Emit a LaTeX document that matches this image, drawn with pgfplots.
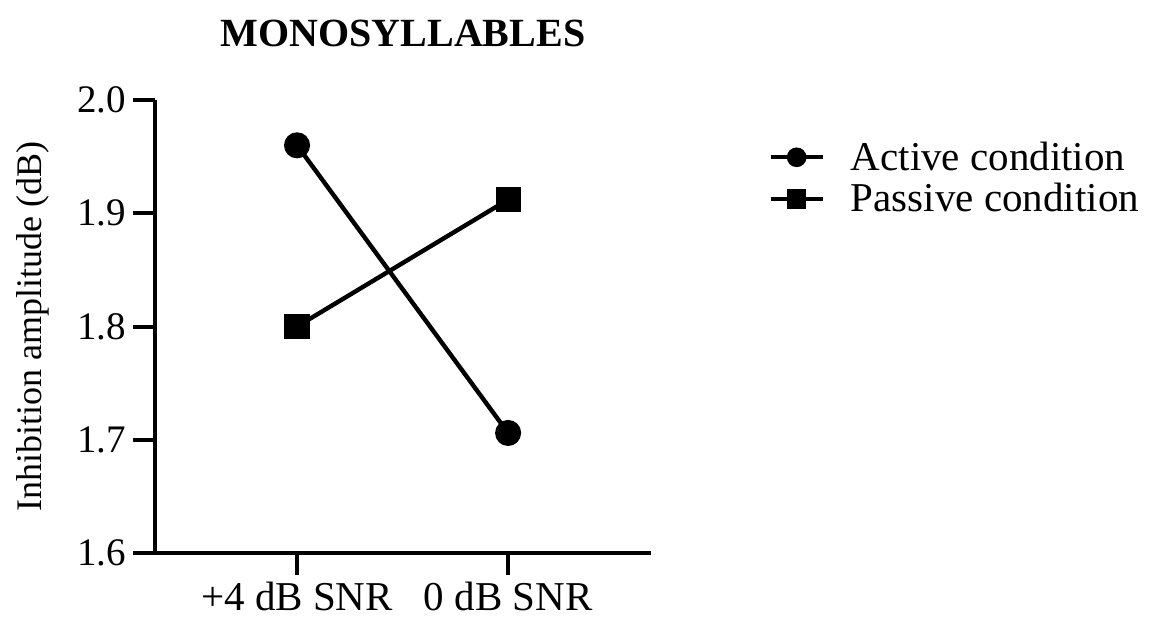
\documentclass[border=0pt]{standalone}
\usepackage{pgfplots}
\pgfplotsset{compat=1.18}
\usepackage{fontspec}
\setmainfont{Liberation Serif}
\begin{document}
\begin{tikzpicture}
\begin{axis}[
  scale only axis=true,
  width=248pt, height=226.5pt,
  xmin=0.327, xmax=2.677,
  ymin=1.6, ymax=2.0,
  axis x line*=bottom, axis y line*=left,
  axis line style={line width=2pt, -},
  xtick={1,2}, xticklabels={+4 dB SNR, 0 dB SNR},
  ytick={1.6,1.7,1.8,1.9,2.0},
  yticklabel style={font=\fontsize{19.5}{22}\selectfont, /pgf/number format/.cd, fixed, fixed zerofill, precision=1},
  xticklabel style={font=\fontsize{20.5}{24}\selectfont},
  /pgf/number format/assume math mode=true,
  tick align=outside, major tick length=11pt,
  tick style={line width=2pt, black},
  ylabel={Inhibition amplitude (dB)},
  ylabel style={font=\fontsize{18}{20}\selectfont},
  ylabel shift=7pt,
  title={\textbf{MONOSYLLABLES}},
  title style={font=\fontsize{20}{24}\selectfont, at={(0.5,1)}, anchor=south, yshift=17pt},
  legend style={at={(1.236,0.918)}, anchor=north west, draw=none, fill=none,
    font=\fontsize{20.5}{21.5}\selectfont, inner sep=0pt, row sep=1pt},
  legend cell align=left,
  legend image code/.code={\draw[#1, line width=2.2pt, mark size=3.8pt, mark repeat=2, mark phase=2] plot coordinates {(0pt,0pt) (13pt,0pt) (26pt,0pt)};},
]
\addplot[black, line width=2.2pt, mark=*, mark size=5.4pt, mark options={solid}] coordinates {(1,1.960) (2,1.706)};
\addlegendentry{\hspace{11pt}Active condition}
\addplot[black, line width=2.2pt, mark=square*, mark size=5.2pt, mark options={solid}] coordinates {(1,1.800) (2,1.912)};
\addlegendentry{\hspace{11pt}Passive condition}
\end{axis}
\path (current axis.south west) ++(-77.5pt,-31pt) coordinate (bbA);
\path (current axis.south west) ++(499.5pt,276.5pt) coordinate (bbB);
\path (bbA) rectangle (bbB);
\end{tikzpicture}
\end{document}
